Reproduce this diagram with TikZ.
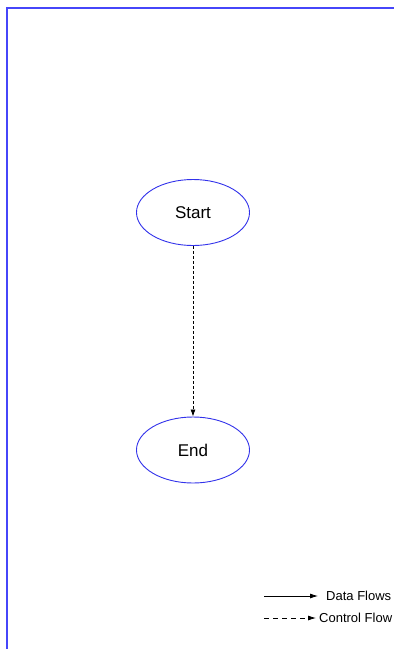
\documentclass[tikz,border=0pt]{standalone}
\usepackage{fontspec}
\setmainfont{Liberation Sans}
\usetikzlibrary{shapes.geometric,arrows.meta}
\definecolor{frameblue}{RGB}{70,70,250}
\definecolor{nodeblue}{RGB}{50,50,235}
\tikzset{
  stateell/.style={ellipse, draw=nodeblue, line width=0.9pt, minimum width=113pt, minimum height=66pt, inner sep=0pt, font=\fontsize{17}{19}\selectfont},
  ctrlflow/.style={dashed, dash pattern=on 3pt off 2pt, line width=0.8pt, -{Latex[length=7pt,width=5pt]}},
  legctrl/.style={dashed, dash pattern=on 5pt off 4pt, line width=0.8pt, -{Latex[length=8pt,width=5pt]}},
  dataflow/.style={line width=0.8pt, -{Latex[length=8pt,width=5pt]}},
  legendtext/.style={anchor=west, inner sep=0pt, font=\fontsize{13}{15}\selectfont}
}
\begin{document}
\begin{tikzpicture}[x=1pt,y=-1pt]
\useasboundingbox (0,0) rectangle (394,649);
\fill[white] (0,0) rectangle (394,649);
\draw[frameblue, line width=2pt] (7,649) -- (7,8) -- (394,8);
\node[stateell] (start) at (193,212.5) {Start};
\node[stateell] (end) at (193,450) {End};
\draw[ctrlflow] (start) -- (end);
\coordinate (d1) at (264,596);
\coordinate (d2) at (318,596);
\coordinate (c1) at (264,618);
\coordinate (c2) at (316,618);
\draw[dataflow] (d1) -- (d2);
\draw[legctrl] (c1) -- (c2);
\node[legendtext] (dtext) at (326,596) {Data Flows};
\node[legendtext] (ctext) at (319,618) {Control Flow};
\end{tikzpicture}
\end{document}
